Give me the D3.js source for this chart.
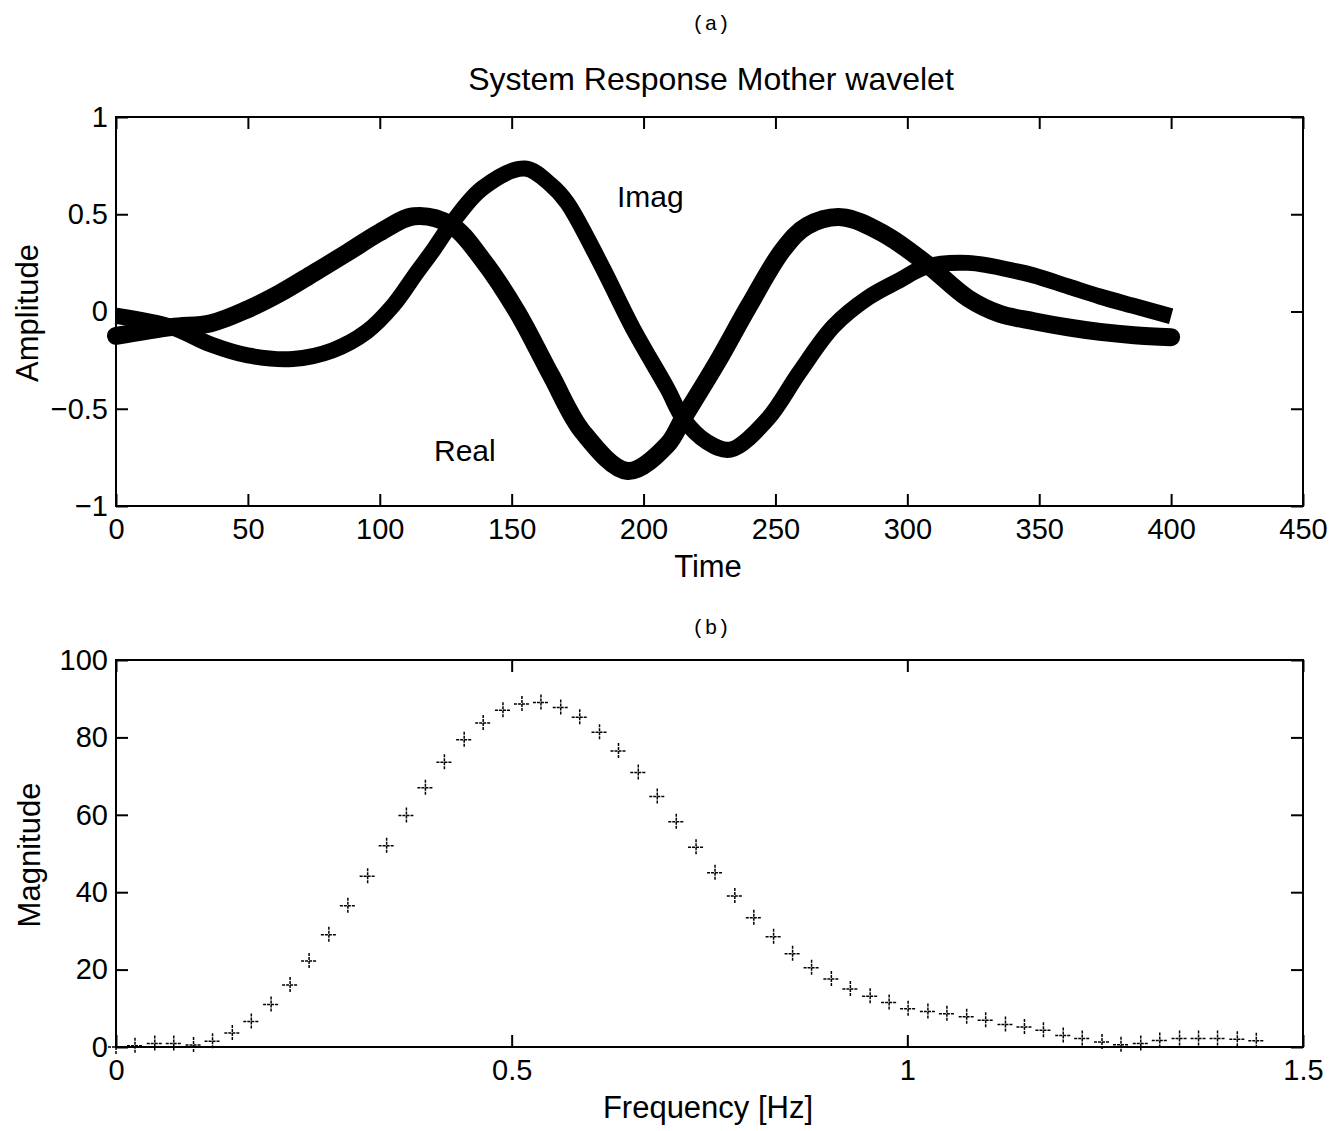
<!DOCTYPE html>
<html>
<head>
<meta charset="utf-8">
<script src="https://cdn.jsdelivr.net/npm/d3@7"></script>
<style>
    body { margin: 0; background: #fff; }
    svg { display: block; }
    text { font-family: 'Liberation Sans', Arial, Helvetica, sans-serif; fill: #000; }
</style>
</head>
<body>
<script>
// (a) system response
var realTime = [0, 21, 36, 50, 62, 75, 88, 100, 113, 127, 139, 152, 165, 177, 194, 209, 215, 228, 240, 253, 262, 275, 291, 307, 323, 335, 348, 361, 373, 386, 400];
var realValues = [-0.125, -0.08, -0.06, 0.012, 0.093, 0.198, 0.305, 0.407, 0.49, 0.445, 0.265, 0.0, -0.33, -0.62, -0.82, -0.685, -0.55, -0.26, 0.03, 0.32, 0.44, 0.485, 0.40, 0.248, 0.068, -0.012, -0.05, -0.082, -0.105, -0.122, -0.132];

var imagTime = [0, 21, 36, 50, 67, 82, 95, 105, 114, 120, 127, 139, 155, 165, 171, 184, 196, 209, 215, 224, 233, 247, 259, 272, 285, 297, 307, 323, 342, 348, 361, 373, 386, 400];
var imagValues = [-0.022, -0.08, -0.17, -0.226, -0.244, -0.20, -0.104, 0.03, 0.2, 0.31, 0.448, 0.635, 0.735, 0.65, 0.56, 0.238, -0.087, -0.396, -0.55, -0.67, -0.71, -0.553, -0.314, -0.076, 0.07, 0.16, 0.23, 0.25, 0.205, 0.185, 0.129, 0.077, 0.028, -0.024];

var timeTicks = [0, 50, 100, 150, 200, 250, 300, 350, 400, 450];
var ampTicks = [-1, -0.5, 0, 0.5, 1];
var ampTickLabels = ['\u22121', '\u22120.5', '0', '0.5', '1'];

// (b) magnitude spectrum
var freqHz = [0, 0.024, 0.049, 0.073, 0.098, 0.122, 0.147, 0.171, 0.196, 0.220, 0.244, 0.269, 0.293, 0.318, 0.342, 0.367, 0.391, 0.415, 0.440, 0.464, 0.489, 0.513, 0.537, 0.562, 0.586, 0.611, 0.635, 0.660, 0.684, 0.708, 0.733, 0.757, 0.782, 0.806, 0.831, 0.855, 0.879, 0.904, 0.928, 0.953, 0.977, 1.001, 1.026, 1.050, 1.075, 1.099, 1.124, 1.148, 1.172, 1.197, 1.221, 1.246, 1.270, 1.295, 1.319, 1.344, 1.368, 1.392, 1.417, 1.441];
var magnitude = [0, 0.3, 0.9, 0.9, 0.5, 1.5, 3.6, 6.6, 11.0, 16.0, 22.2, 29.0, 36.5, 44.1, 52.0, 59.8, 67.0, 73.6, 79.4, 83.7, 87.0, 88.6, 89.0, 87.7, 85.2, 81.3, 76.5, 70.9, 64.7, 58.2, 51.6, 45.0, 39.0, 33.4, 28.5, 24.1, 20.5, 17.6, 15.0, 13.1, 11.5, 9.9, 9.2, 8.6, 7.8, 6.9, 5.8, 5.2, 4.3, 3.0, 2.2, 1.3, 0.6, 0.9, 1.7, 2.2, 2.2, 2.2, 2.0, 1.6];

var freqTicks = [0, 0.5, 1, 1.5];
var freqTickLabels = ['0', '0.5', '1', '1.5'];
var magTicks = [0, 20, 40, 60, 80, 100];

var W = 1339, H = 1131,
    left = 116, right = 1303,
    tick = 12;

var svg = d3.select('body').append('svg')
    .attr('width', W)
    .attr('height', H);

// draws the box, the inward ticks on all four sides and the labels
function drawFrame(g, x, y, xt, xl, yt, yl) {
    var x0 = x.range()[0], x1 = x.range()[1],
        y0 = y.range()[0], y1 = y.range()[1];

    g.append('g')
        .attr('transform', 'translate(0,' + y0 + ')')
        .call(d3.axisBottom(x).tickValues(xt).tickSize(-tick).tickSizeOuter(0).tickPadding(12)
            .tickFormat(function (d, i) { return xl[i]; }));
    g.append('g')
        .attr('transform', 'translate(0,' + y1 + ')')
        .call(d3.axisTop(x).tickValues(xt).tickSize(-tick).tickSizeOuter(0).tickFormat(''));
    g.append('g')
        .attr('transform', 'translate(' + x0 + ',0)')
        .call(d3.axisLeft(y).tickValues(yt).tickSize(-tick).tickSizeOuter(0).tickPadding(8)
            .tickFormat(function (d, i) { return yl[i]; }));
    g.append('g')
        .attr('transform', 'translate(' + x1 + ',0)')
        .call(d3.axisRight(y).tickValues(yt).tickSize(-tick).tickSizeOuter(0).tickFormat(''));

    g.selectAll('.domain').remove();
    g.selectAll('.tick line').attr('stroke', '#000').attr('stroke-width', 2);
    g.selectAll('.tick text')
        .style('font-family', "'Liberation Sans', Arial, sans-serif")
        .style('font-size', '29px')
        .attr('fill', '#000');

    g.append('rect')
        .attr('x', x0)
        .attr('y', y1)
        .attr('width', x1 - x0)
        .attr('height', y0 - y1)
        .attr('fill', 'none')
        .attr('stroke', '#000')
        .attr('stroke-width', 2);
}

// ---- panel (a)
var xTime = d3.scaleLinear().domain([0, 450]).range([left, right]);
var yAmp = d3.scaleLinear().domain([-1, 1]).range([506, 117]);

svg.append('text')
    .attr('x', 711).attr('y', 30)
    .attr('text-anchor', 'middle')
    .style('font-family', "'Liberation Mono', 'DejaVu Sans Mono', monospace")
    .style('font-size', '21px')
    .text('(a)');

svg.append('text')
    .attr('x', 711).attr('y', 90)
    .attr('text-anchor', 'middle')
    .style('font-size', '32px')
    .text('System Response Mother wavelet');

var panelA = svg.append('g');
drawFrame(panelA, xTime, yAmp, timeTicks, timeTicks.map(String), ampTicks, ampTickLabels);

var line = d3.line().curve(d3.curveCatmullRom.alpha(0.5));

panelA.append('path')
    .attr('d', line(realTime.map(function (t, i) { return [xTime(t), yAmp(realValues[i])]; })))
    .attr('fill', 'none')
    .attr('stroke', '#000')
    .attr('stroke-width', 18)
    .attr('stroke-linecap', 'round')
    .attr('stroke-linejoin', 'round');

panelA.append('path')
    .attr('d', line(imagTime.map(function (t, i) { return [xTime(t), yAmp(imagValues[i])]; })))
    .attr('fill', 'none')
    .attr('stroke', '#000')
    .attr('stroke-width', 16)
    .attr('stroke-linecap', 'butt')
    .attr('stroke-linejoin', 'round');

panelA.append('text')
    .attr('x', 617).attr('y', 207)
    .style('font-size', '30px')
    .text('Imag');

panelA.append('text')
    .attr('x', 434).attr('y', 461)
    .style('font-size', '30px')
    .text('Real');

svg.append('text')
    .attr('x', 708).attr('y', 577)
    .attr('text-anchor', 'middle')
    .style('font-size', '31px')
    .text('Time');

svg.append('text')
    .attr('transform', 'translate(38,313) rotate(-90)')
    .attr('text-anchor', 'middle')
    .style('font-size', '31px')
    .text('Amplitude');

// ---- panel (b)
var xFreq = d3.scaleLinear().domain([0, 1.5]).range([left, right]);
var yMag = d3.scaleLinear().domain([0, 100]).range([1047, 660]);

svg.append('text')
    .attr('x', 711).attr('y', 634)
    .attr('text-anchor', 'middle')
    .style('font-family', "'Liberation Mono', 'DejaVu Sans Mono', monospace")
    .style('font-size', '21px')
    .text('(b)');

var panelB = svg.append('g');
drawFrame(panelB, xFreq, yMag, freqTicks, freqTickLabels, magTicks, magTicks.map(String));

panelB.selectAll('path.mark')
    .data(freqHz)
    .enter().append('path')
    .attr('class', 'mark')
    .attr('d', function (f, i) {
        var cx = xFreq(f), cy = yMag(magnitude[i]);
        return 'M' + (cx - 8) + ',' + cy + 'H' + (cx + 8) + 'M' + cx + ',' + (cy - 8) + 'V' + (cy + 8);
    })
    .attr('fill', 'none')
    .attr('stroke', '#000')
    .attr('stroke-width', 1.5)
    .attr('stroke-dasharray', '3 1');

svg.append('text')
    .attr('x', 708).attr('y', 1118)
    .attr('text-anchor', 'middle')
    .style('font-size', '31px')
    .text('Frequency [Hz]');

svg.append('text')
    .attr('transform', 'translate(40,855) rotate(-90)')
    .attr('text-anchor', 'middle')
    .style('font-size', '31px')
    .text('Magnitude');
</script>
</body>
</html>
